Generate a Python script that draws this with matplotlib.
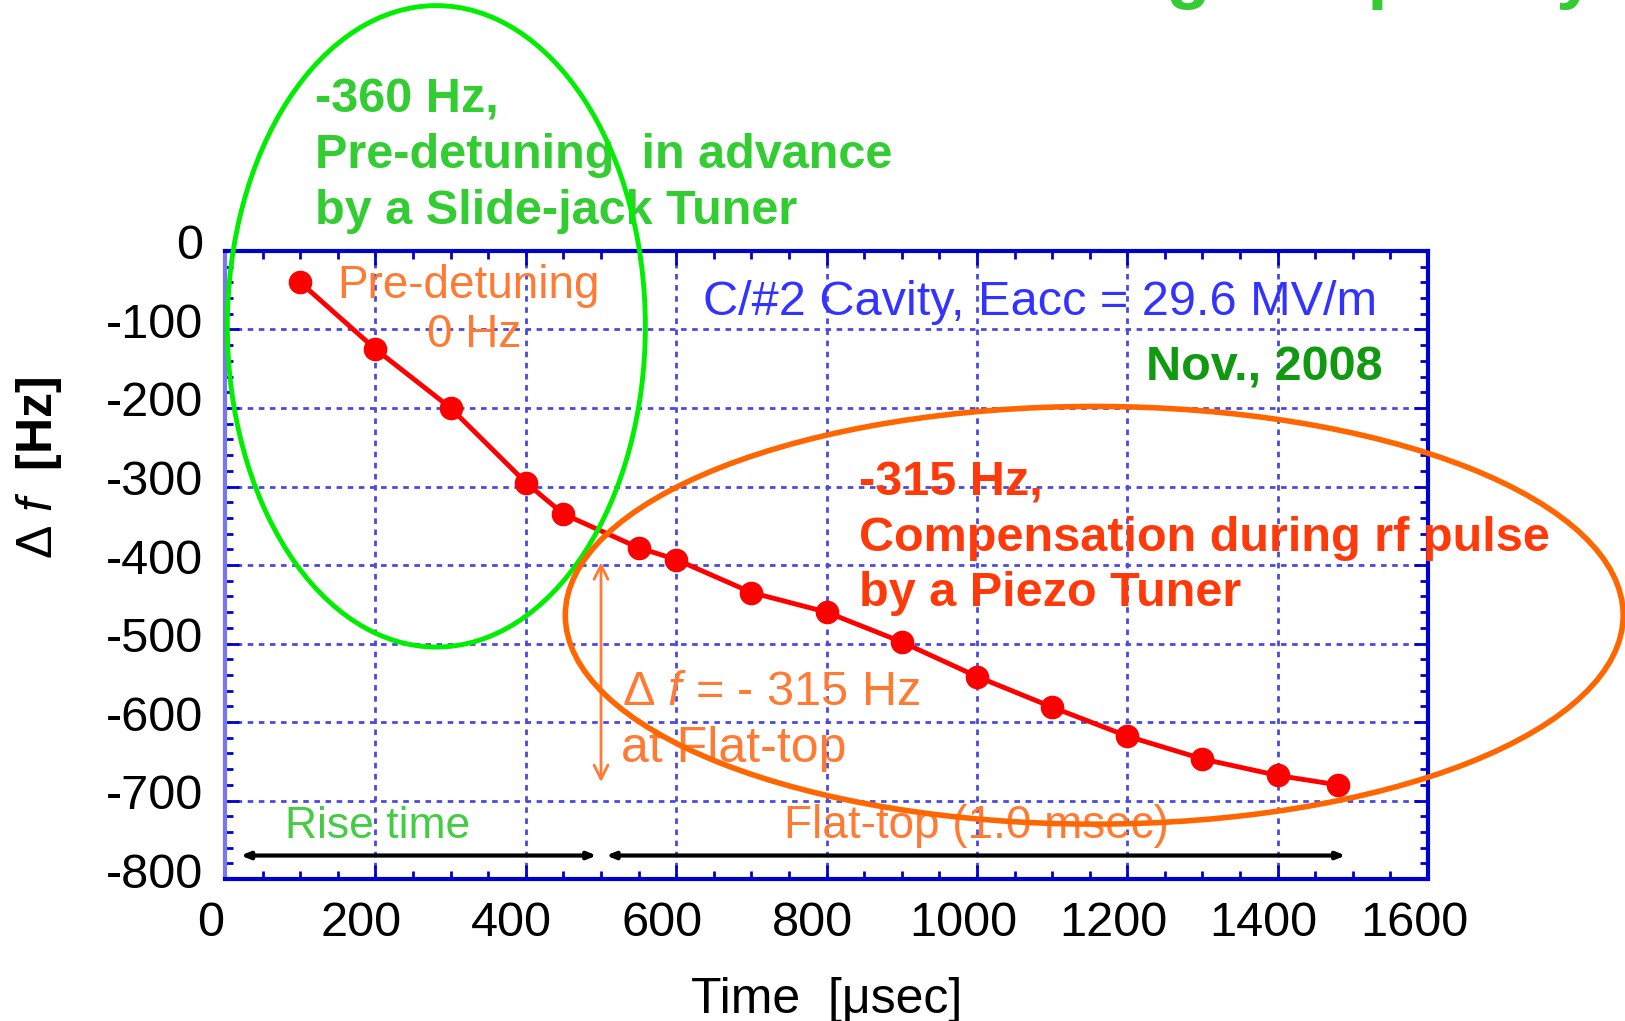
import matplotlib
matplotlib.use("Agg")
import matplotlib.pyplot as plt
import matplotlib.transforms as mtransforms
from matplotlib.patches import Ellipse
from matplotlib.ticker import MultipleLocator

plt.rcParams['font.family'] = ['Liberation Sans', 'DejaVu Sans']
plt.rcParams['mathtext.fontset'] = 'custom'
plt.rcParams['mathtext.it'] = 'Liberation Sans:italic'
plt.rcParams['mathtext.rm'] = 'Liberation Sans'
plt.rcParams['axes.unicode_minus'] = False

# measured detuning during the pulse
time_us = [100, 200, 300, 400, 450, 550, 600, 700, 800, 900, 1000, 1100, 1200, 1300, 1400, 1480]
detune_hz = [-40, -125, -200, -295, -335, -378, -393, -435, -460, -498, -542, -581, -618, -647, -668, -680]

x_ticks = [0, 200, 400, 600, 800, 1000, 1200, 1400, 1600]
y_ticks = [0, -100, -200, -300, -400, -500, -600, -700, -800]

blue = '#0000cc'
green = '#33cc33'
orange = '#ff7a33'
red_txt = '#ff3a0a'

fig = plt.figure(figsize=(16.25, 10.21), dpi=100)
ax = fig.add_axes([0.1385, 0.139, 0.7403, 0.6152])

ax.plot(time_us, detune_hz, '-o', color='#ff0000', lw=3.5, ms=16, zorder=5)

ax.set_xlim(0, 1600)
ax.set_ylim(-800, 0)
ax.set_xticks(x_ticks)
ax.set_yticks(y_ticks)
ax.xaxis.set_minor_locator(MultipleLocator(50))
ax.yaxis.set_minor_locator(MultipleLocator(20))
ax.tick_params(which='both', direction='in', top=True, right=True, color=blue, width=2)
ax.tick_params(which='major', length=10, labelsize=35, pad=16)
ax.tick_params(which='minor', length=6)
ax.grid(True, which='major', color='#4a4ae0', ls=(0, (2, 2)), lw=2)
ax.set_axisbelow(True)
for side in ['top', 'bottom', 'right']:
    ax.spines[side].set_color(blue)
    ax.spines[side].set_linewidth(3)
ax.spines['left'].set_color('#7777ee')
ax.spines['left'].set_linewidth(3)

# the tick labels in the original sit a little off the grid
dx = mtransforms.ScaledTranslation(-0.14, 0, fig.dpi_scale_trans)
dy = mtransforms.ScaledTranslation(0, 0.09, fig.dpi_scale_trans)
for lab in ax.get_xticklabels():
    lab.set_transform(lab.get_transform() + dx)
for lab in ax.get_yticklabels():
    lab.set_transform(lab.get_transform() + dy)

ax.set_xlabel('Time  [\u03bcsec]', fontsize=36, labelpad=22)
ax.set_ylabel(r'$\mathit{\Delta\ f}$  [Hz]', fontsize=36, fontweight='bold')
ax.yaxis.set_label_coords(-0.134, 0.655)

# ellipses marking the two tuners
ax.add_patch(Ellipse((281, -96), 556, 817, fill=False, ec='#00ee00', lw=3.5, clip_on=False, zorder=6))
ax.add_patch(Ellipse((1156, -464), 1407, 532, fill=False, ec='#ff6600', lw=4, clip_on=False, zorder=6))

ax.text(119, 121, '-360 Hz,\nPre-detuning  in advance\nby a Slide-jack Tuner', color=green,
        fontsize=35, fontweight='bold', va='center', ha='left', linespacing=1.3, clip_on=False)
ax.text(843, -366, '-315 Hz,\nCompensation during rf pulse\nby a Piezo Tuner', color=red_txt,
        fontsize=35, fontweight='bold', va='center', ha='left', linespacing=1.3, clip_on=False, zorder=7)
ax.text(636, -66, 'C/#2 Cavity, Eacc = 29.6 MV/m', color='#3333ff', fontsize=35, va='center', ha='left')
ax.text(1225, -149, 'Nov., 2008', color='#119911', fontsize=35, fontweight='bold', va='center', ha='left')
ax.text(324, -44, 'Pre-detuning', color=orange, fontsize=33, va='center', ha='center')
ax.text(331, -107, '0 Hz', color=orange, fontsize=33, va='center', ha='center')
ax.text(528, -562, r'$\mathit{\Delta\ f}$ = - 315 Hz', color=orange, fontsize=35, va='center', ha='left')
ax.text(526, -634, 'at Flat-top', color=orange, fontsize=36, va='center', ha='left')
ax.text(203, -733, 'Rise time', color='#44cc44', fontsize=32, va='center', ha='center')
ax.text(1000, -733, 'Flat-top (1.0 msec)', color=orange, fontsize=33, va='center', ha='center')

ax.annotate('', xy=(500, -393), xytext=(500, -680),
            arrowprops=dict(arrowstyle='<->', color=orange, lw=2, mutation_scale=25))
ax.annotate('', xy=(17, -770), xytext=(498, -770),
            arrowprops=dict(arrowstyle='<|-|>,head_length=0.5,head_width=0.2', color='black', lw=3))
ax.annotate('', xy=(503, -770), xytext=(1494, -770),
            arrowprops=dict(arrowstyle='<|-|>,head_length=0.5,head_width=0.2', color='black', lw=3))

# slide title, cut off at the top edge
fig.text(0.982, 1.005, 'Lorentz Detuning Frequency', color=green, fontsize=52,
         fontweight='bold', ha='right', va='baseline')

fig.savefig('out.png', dpi=100)
